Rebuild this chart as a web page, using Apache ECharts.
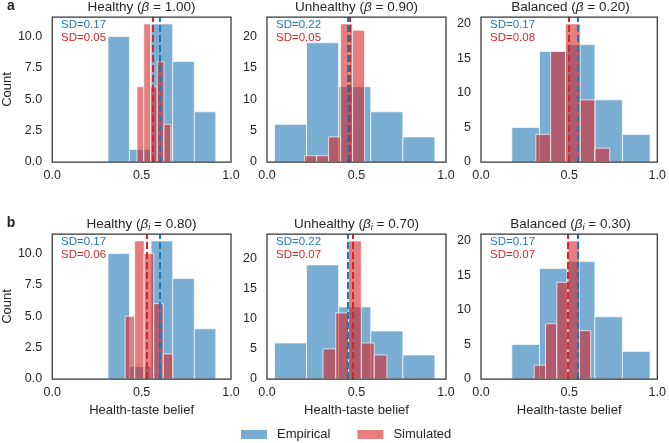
<!DOCTYPE html>
<html><head><meta charset="utf-8">
<script src="https://cdn.jsdelivr.net/npm/echarts@6/dist/echarts.min.js"></script>
<style>html,body{margin:0;padding:0;background:#fff}#c{width:669px;height:443px}</style>
</head><body><div id="c"></div>
<script>
// ---------------- data ----------------
const empHealthyEdges   = [0.312, 0.432, 0.553, 0.674, 0.795, 0.915];
const empHealthyCounts  = [10, 1, 11, 8, 4];
const empUnhealthyEdges = [0.042, 0.221, 0.400, 0.580, 0.759, 0.938];
const empUnhealthyCounts= [6, 19, 12, 8, 4];
const empBalancedEdges  = [0.175, 0.332, 0.489, 0.646, 0.802, 0.959];
const empBalancedCounts = [5, 16, 17, 9, 4];

const simAHealthyEdges   = [0.474, 0.512, 0.550, 0.587, 0.625, 0.663];
const simAHealthyCounts  = [6, 11, 6, 8, 3];
const simAUnhealthyEdges = [0.210, 0.277, 0.344, 0.411, 0.478, 0.545];
const simAUnhealthyCounts= [1, 1, 4, 22, 21];
const simABalancedEdges  = [0.311, 0.395, 0.479, 0.563, 0.646, 0.730];
const simABalancedCounts = [4, 16, 20, 9, 2];

const simBHealthyEdges   = [0.408, 0.461, 0.514, 0.568, 0.621, 0.674];
const simBHealthyCounts  = [5, 11, 10, 6, 2];
const simBUnhealthyEdges = [0.313, 0.384, 0.456, 0.527, 0.599, 0.670];
const simBUnhealthyCounts= [5, 11, 23, 6, 4];
const simBBalancedEdges  = [0.302, 0.366, 0.430, 0.494, 0.558, 0.622];
const simBBalancedCounts = [2, 8, 14, 20, 7];

const empMeans  = [0.600, 0.452, 0.545];
const simAMeans = [0.557, 0.461, 0.503];
const simBMeans = [0.529, 0.484, 0.492];

const empSDs  = ['0.17', '0.22', '0.17'];
const simASDs = ['0.05', '0.05', '0.08'];
const simBSDs = ['0.06', '0.07', '0.07'];

const categoryNames = ['Healthy', 'Unhealthy', 'Balanced'];
const betaA = ['1.00', '0.90', '0.20'];
const betaB = ['0.80', '0.70', '0.30'];
const xTickInterval = 0.5;
const yTickIntervals = [2.5, 5, 5];
const legendNames = ['Empirical', 'Simulated'];
const xAxisLabel = 'Health-taste belief';
const yAxisLabel = 'Count';

// ---------------- layout / style ----------------
const FONT = 'Liberation Sans, Arial, Helvetica, sans-serif';
const TXT = '#262626';
const BLUE = '#1f77b4', RED = '#d62728';
const BLUE_FILL = 'rgba(31,119,180,0.6)', RED_FILL = 'rgba(214,39,40,0.6)';
const colLeft = [52, 267, 481];
const rowTop = [17, 234];
const GW = 179, GH = 145;

const empEdges = [empHealthyEdges, empUnhealthyEdges, empBalancedEdges];
const empCounts = [empHealthyCounts, empUnhealthyCounts, empBalancedCounts];
const simEdges = [[simAHealthyEdges, simAUnhealthyEdges, simABalancedEdges],
                  [simBHealthyEdges, simBUnhealthyEdges, simBBalancedEdges]];
const simCounts = [[simAHealthyCounts, simAUnhealthyCounts, simABalancedCounts],
                   [simBHealthyCounts, simBUnhealthyCounts, simBBalancedCounts]];
const simMeans = [simAMeans, simBMeans];
const simSDs = [simASDs, simBSDs];
const betas = [betaA, betaB];

function bins(edges, counts) {
  return counts.map((c, i) => [edges[i], edges[i + 1], c]);
}
function renderBin(params, api) {
  const p0 = api.coord([api.value(0), 0]);
  const p1 = api.coord([api.value(1), api.value(2)]);
  return {
    type: 'rect',
    shape: { x: p0[0], y: p1[1], width: p1[0] - p0[0], height: p0[1] - p1[1] },
    style: { fill: api.visual('color'), stroke: 'rgba(255,255,255,0.7)', lineWidth: 1 }
  };
}
function meanLine(v, color) {
  return {
    silent: true, symbol: ['none', 'none'], label: { show: false },
    lineStyle: { type: [7, 3], width: 2, color: color, opacity: 1 },
    emphasis: { disabled: true },
    data: [{ xAxis: v }]
  };
}

const grids = [], xAxes = [], yAxes = [], series = [], graphics = [];
for (let r = 0; r < 2; r++) {
  for (let c = 0; c < 3; c++) {
    const idx = r * 3 + c;
    const left = colLeft[c], top = rowTop[r];
    grids.push({ left: left, top: top, width: GW, height: GH, show: true,
      borderColor: '#333', borderWidth: 1.25, backgroundColor: 'transparent', z: 10 });
    xAxes.push({
      gridIndex: idx, type: 'value', min: 0, max: 1, interval: xTickInterval,
      axisLine: { show: false }, axisTick: { show: false }, splitLine: { show: false },
      axisLabel: { formatter: v => v.toFixed(1), fontSize: 12.5, color: TXT, fontFamily: FONT, margin: 7 },
      name: r === 1 ? xAxisLabel : '', nameLocation: 'middle', nameGap: 25,
      nameTextStyle: { fontSize: 13, color: TXT, fontFamily: FONT }
    });
    const allCounts = empCounts[c].concat(simCounts[r][c]);
    const yMax = Math.max.apply(null, allCounts) * 1.05;
    const yi = yTickIntervals[c];
    yAxes.push({
      gridIndex: idx, type: 'value', min: 0, max: yMax, interval: yi,
      axisLine: { show: false }, axisTick: { show: false }, splitLine: { show: false },
      axisLabel: { formatter: v => (yi % 1 ? v.toFixed(1) : String(v)), fontSize: 12.5, color: TXT,
        fontFamily: FONT, margin: 10, showMaxLabel: false },
      name: c === 0 ? yAxisLabel : '', nameLocation: 'middle', nameGap: 38,
      nameTextStyle: { fontSize: 13, color: TXT, fontFamily: FONT }
    });
    series.push({
      type: 'custom', name: legendNames[0], xAxisIndex: idx, yAxisIndex: idx,
      data: bins(empEdges[c], empCounts[c]), encode: { x: [0, 1], y: 2 },
      renderItem: renderBin, itemStyle: { color: BLUE_FILL }, z: 2, silent: true,
      markLine: meanLine(empMeans[c], BLUE)
    });
    series.push({
      type: 'custom', name: legendNames[1], xAxisIndex: idx, yAxisIndex: idx,
      data: bins(simEdges[r][c], simCounts[r][c]), encode: { x: [0, 1], y: 2 },
      renderItem: renderBin, itemStyle: { color: RED_FILL }, z: 3, silent: true,
      markLine: meanLine(simMeans[r][c], RED)
    });
    // SD annotations
    graphics.push({ type: 'text', x: left + 9, y: top + 7.5, silent: true,
      style: { text: 'SD=' + empSDs[c], fill: BLUE, fontSize: 11.5, fontFamily: FONT, verticalAlign: 'middle' } });
    graphics.push({ type: 'text', x: left + 9, y: top + 20.5, silent: true,
      style: { text: 'SD=' + simSDs[r][c], fill: RED, fontSize: 11.5, fontFamily: FONT, verticalAlign: 'middle' } });
    // titles
    const tok = { fontSize: 13.5, fontFamily: FONT, fill: TXT, lineHeight: 17 };
    const titleText = r === 0
      ? '{n|' + categoryNames[c] + ' (}{b|β}{n| = ' + betas[r][c] + ')}'
      : '{n|' + categoryNames[c] + ' (}{b|β}{s|i}{n| = ' + betas[r][c] + ')}';
    graphics.push({ type: 'text', x: left + GW / 2, y: top - 10, silent: true,
      style: { text: titleText, align: 'center', verticalAlign: 'middle',
        rich: { n: tok, b: Object.assign({}, tok, { fontStyle: 'italic' }),
                s: { fontSize: 9.5, fontFamily: FONT, fill: TXT, fontStyle: 'italic', verticalAlign: 'bottom', lineHeight: 17 } } } });
  }
}
graphics.push({ type: 'text', x: 11, y: 6, silent: true,
  style: { text: 'a', fill: TXT, fontSize: 14, fontWeight: 'bold', fontFamily: FONT, align: 'center', verticalAlign: 'middle' } });
graphics.push({ type: 'text', x: 11, y: 223, silent: true,
  style: { text: 'b', fill: TXT, fontSize: 14, fontWeight: 'bold', fontFamily: FONT, align: 'center', verticalAlign: 'middle' } });

const chart = echarts.init(document.getElementById('c'), null, { renderer: 'canvas' });
chart.setOption({
  animation: false,
  backgroundColor: '#fff',
  textStyle: { fontFamily: FONT },
  grid: grids, xAxis: xAxes, yAxis: yAxes, series: series,
  legend: { data: legendNames, left: 241, top: 428, padding: 0, icon: 'rect', itemWidth: 26, itemHeight: 9, itemGap: 27,
    selectedMode: false, textStyle: { fontSize: 13, color: TXT, fontFamily: FONT, padding: [0, 0, 0, 5] } },
  graphic: graphics
});
</script></body></html>
